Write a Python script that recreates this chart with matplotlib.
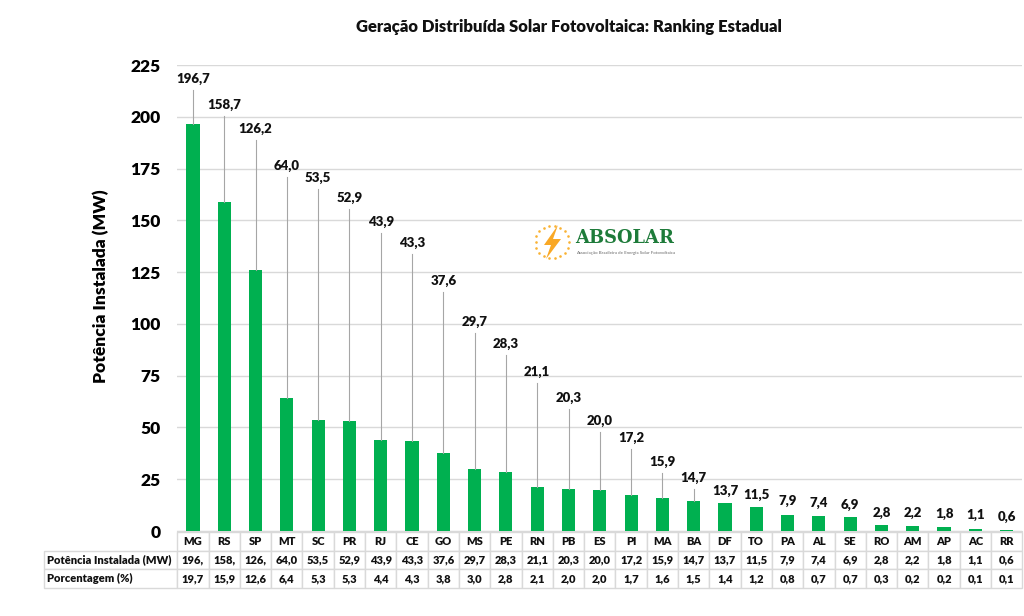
import matplotlib
matplotlib.use('Agg')

import numpy as np
import matplotlib.pyplot as plt
from matplotlib.patches import Polygon

plt.rcParams['font.family'] = ['Lato', 'DejaVu Sans']

states = ["MG", "RS", "SP", "MT", "SC", "PR", "RJ", "CE", "GO", "MS", "PE", "RN", "PB", "ES",
          "PI", "MA", "BA", "DF", "TO", "PA", "AL", "SE", "RO", "AM", "AP", "AC", "RR"]
power = [196.7, 158.7, 126.2, 64.0, 53.5, 52.9, 43.9, 43.3, 37.6, 29.7, 28.3, 21.1, 20.3, 20.0,
         17.2, 15.9, 14.7, 13.7, 11.5, 7.9, 7.4, 6.9, 2.8, 2.2, 1.8, 1.1, 0.6]
percent = [19.7, 15.9, 12.6, 6.4, 5.3, 5.3, 4.4, 4.3, 3.8, 3.0, 2.8, 2.1, 2.0, 2.0,
           1.7, 1.6, 1.5, 1.4, 1.2, 0.8, 0.7, 0.7, 0.3, 0.2, 0.2, 0.1, 0.1]
# where the data labels sit, in MW (moved by hand in the original)
label_y = [218.3, 205.7, 194.1, 176.2, 170.4, 160.8, 149.2, 139, 120.7, 100.9, 90.3, 76.8, 64.2, 53.1,
           44.9, 33.3, 25.6, 19.3, 17.4, 14.5, 13.5, 12.6, 8.7, 8.7, 8.2, 7.7, 6.8]

# the table cuts off the three largest values
power_cells = ["196,", "158,", "126,"] + [f"{v:.1f}".replace(".", ",") for v in power[3:]]
percent_cells = [f"{v:.1f}".replace(".", ",") for v in percent]

GREEN = "#00B050"
GRID = "#D9D9D9"
HEAVY = "heavy"

fig = plt.figure(figsize=(10.24, 6.16), dpi=100)
ax = fig.add_axes([177.3 / 1024, 1 - 531 / 616, 845 / 1024, 466 / 616])

x = np.arange(len(states))
ax.bar(x, power, width=0.42, color=GREEN, zorder=3)

ax.set_xlim(-0.5, len(states) - 0.5)
ax.set_ylim(0, 225)
ax.set_yticks(np.arange(0, 226, 25))
ax.set_xticks([])
ax.tick_params(axis="y", length=0, pad=12, labelsize=12.5)
for t in ax.get_yticklabels():
    t.set_fontweight(HEAVY)
ax.grid(axis="y", color=GRID, linewidth=1.0, zorder=0)
for side in ["top", "right", "left"]:
    ax.spines[side].set_visible(False)
ax.spines["bottom"].set_color(GRID)

ax.set_ylabel("Potência Instalada (MW)", fontsize=12.5, fontweight=HEAVY)
ax.yaxis.set_label_coords(-68 / 845, 0.526)

# data labels with leader lines
for xi, v, ly in zip(x, power, label_y):
    if ly - v > 7:
        ax.plot([xi, xi], [v, ly - 5.3], color="#A6A6A6", linewidth=0.8, zorder=4)
    ax.text(xi, ly, f"{v:.1f}".replace(".", ","), ha="center", va="center",
            fontsize=9.5, fontweight=HEAVY, color="#111111", zorder=5)

# table under the chart
ax_w, ax_h = 845.0, 466.0
cell_text = [[""] + states,
             ["Potência Instalada (MW)"] + power_cells,
             ["Porcentagem (%)"] + percent_cells]
col_widths = [133 / ax_w] + [1 / len(states)] * len(states)
tab = ax.table(cellText=cell_text, colWidths=col_widths, cellLoc="center",
               bbox=[-133 / ax_w, -57 / ax_h, (133 + ax_w) / ax_w, 56 / ax_h])
tab.auto_set_font_size(False)
tab.set_fontsize(8)
for (r, c), cell in tab.get_celld().items():
    cell.set_edgecolor(GRID)
    cell.set_linewidth(1.0)
    cell.get_text().set_fontweight(HEAVY)
    cell.get_text().set_color("#111111")
    if c == 0:
        cell.get_text().set_ha("left")
        cell.PAD = 0.02
    if r == 0 and c == 0:
        cell.visible_edges = ""

fig.text(569 / 1024, 1 - 27 / 616, "Geração Distribuída Solar Fotovoltaica: Ranking Estadual",
         ha="center", va="center", fontsize=12, fontweight=HEAVY, color="#111111")

# ABSOLAR logo, pixel coordinates of the figure
logo = fig.add_axes([0, 0, 1, 1], facecolor="none")
logo.set_xlim(0, 1024)
logo.set_ylim(616, 0)
logo.axis("off")
angles = np.deg2rad(np.arange(0, 360, 20))
logo.scatter(552 + 16.5 * np.cos(angles), 242 + 16.5 * np.sin(angles), s=3.5, color="#F9B233", linewidth=0)
logo.add_patch(Polygon([(558, 225), (544, 245), (551, 245), (546, 259), (561, 239), (553, 239)],
                       closed=True, facecolor="#F9A825", edgecolor="none"))
logo.text(575, 238, "ABSOLAR", fontsize=12.9, family="DejaVu Serif", fontweight="bold", color="#1E7B3A",
          ha="left", va="center")
logo.text(576, 253, "Associação Brasileira de Energia Solar Fotovoltaica", fontsize=3.15,
          color="#8A8A8A", ha="left", va="center", fontweight="bold")

fig.savefig("out.png", dpi=100)
